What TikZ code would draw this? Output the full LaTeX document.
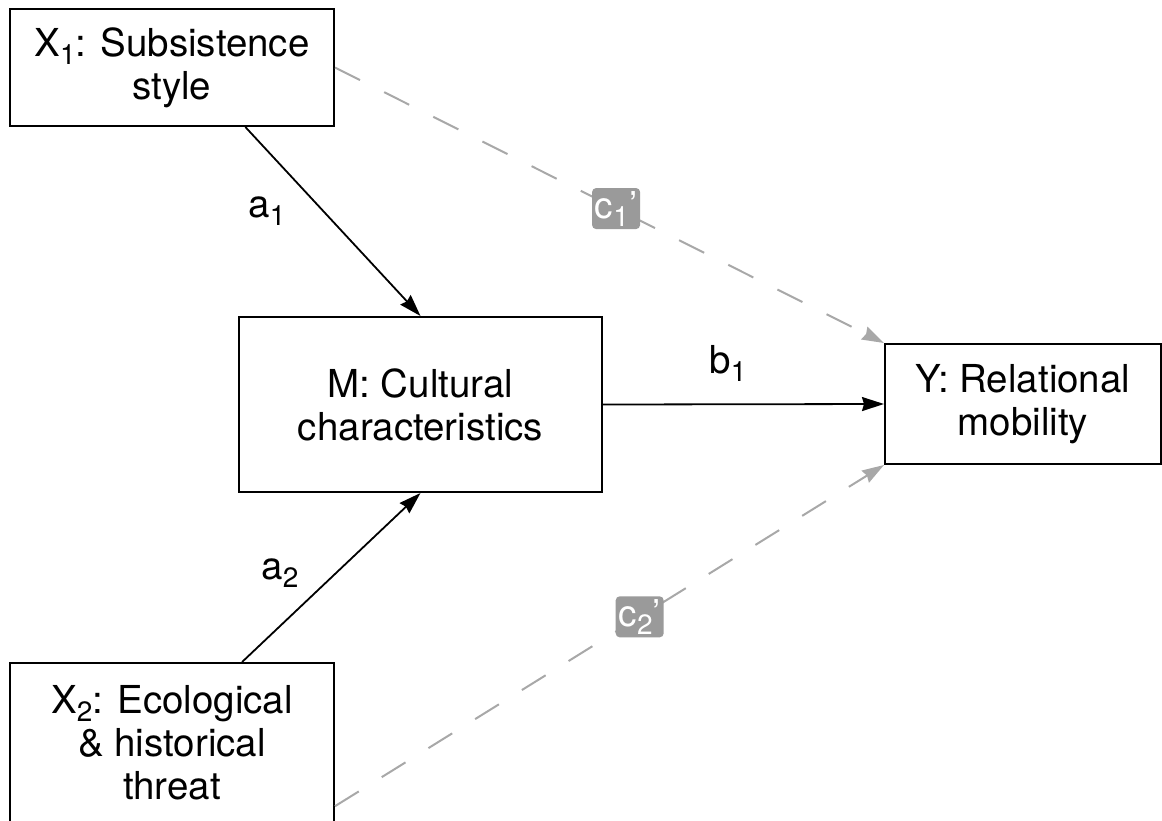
\documentclass[tikz,border=0pt]{standalone}
\usepackage{fontspec}
\setmainfont{TeX Gyre Heros}
\usetikzlibrary{arrows.meta,calc}
\definecolor{dashgray}{HTML}{A8A8A8}
\definecolor{tagfill}{HTML}{9A9A9A}
% lowered subscript digit
\newcommand\subnum[1]{\raisebox{-8pt}{\fontsize{28}{28}\selectfont #1}}

\begin{document}
\begin{tikzpicture}[x=1pt,y=-1pt,
  box/.style={draw=black, line width=2pt, inner sep=0pt, align=center,
    font=\fontsize{38.5}{43}\selectfont},
  tip/.style={-{Stealth[length=22pt,width=14pt,inset=2pt]}},
  effect/.style={line width=1.8pt, tip},
  direct/.style={line width=2pt, draw=dashgray, dash pattern=on 28pt off 27pt, tip},
  coef/.style={font=\fontsize{38.5}{43}\selectfont, inner sep=0pt},
  tag/.style={fill=tagfill, text=white, rounded corners=4pt, minimum width=48pt,
    minimum height=41pt, inner sep=0pt, font=\fontsize{37}{37}\selectfont}
]
\useasboundingbox (0,0) rectangle (1162,820);

% variables
\node[box, minimum width=324pt, minimum height=117pt] (x1) at (172,67.5)
  {X\subnum{1}: Subsistence\\style};
\node[box, minimum width=363pt, minimum height=175pt] (m) at (420.5,404.5)
  {M: Cultural\\characteristics};
\node[box, minimum width=276pt, minimum height=120pt] (y) at (1023,404)
  {Y: Relational\\mobility};
\node[box, minimum width=324pt, minimum height=160pt] (x2) at (172,743)
  {X\subnum{2}: Ecological\\\& historical\\threat};

% connector anchors on the box edges
\coordinate (x1a) at ($(x1.south west)!0.725!(x1.south east)$);
\coordinate (x2a) at ($(x2.north west)!0.715!(x2.north east)$);
\coordinate (x2c) at ($(x2.north east)!0.89!(x2.south east)$);

% direct effects (dashed)
\draw[direct] (x1.east) -- (y.north west);
\draw[direct] (x2c) -- (y.south west);
\path (x1.east) -- (y.north west) node[tag, pos=0.512] (c1) {c\subnum{1}’};
\path (x2c) -- (y.south west) node[tag, pos=0.555] (c2) {c\subnum{2}’};

% indirect paths
\draw[effect] (x1a) -- (m.north);
\draw[effect] (x2a) -- (m.south);
\draw[effect] (m.east) -- (y.west);

% path coefficients
\node[coef] (a1) at (267,211) {a\subnum{1}};
\node[coef] (a2) at (280,573) {a\subnum{2}};
\node[coef] (b1) at (728,363) {b\subnum{1}};
\end{tikzpicture}
\end{document}
